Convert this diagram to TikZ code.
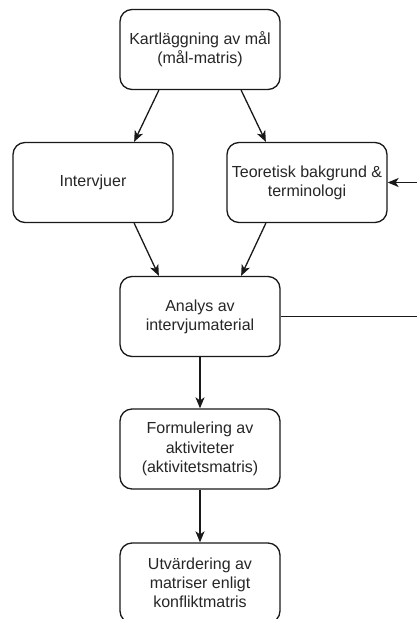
\documentclass[tikz,border=0pt]{standalone}
\usepackage{fontspec}
\setmainfont{Liberation Sans}
\usetikzlibrary{arrows.meta,calc}
\tikzset{
  box/.style={draw=black!90, line width=1.3pt, rounded corners=12pt, fill=white,
    minimum width=160pt, minimum height=80pt, inner sep=2pt, align=center,
    font=\fontsize{16}{19.2}\selectfont, text=black!85},
  conn/.style={draw=black!90, line width=1.3pt, -{Stealth[length=11pt,width=9pt,inset=3pt]}},
  plain/.style={draw=black!90, line width=1.3pt}
}
\begin{document}
\begin{tikzpicture}[x=1pt,y=-1pt]
\useasboundingbox (0,0) rectangle (417,619);
\clip (0,0) rectangle (417,619);
\node[box] (top) at (200,49.5) {Kartläggning av mål\\(mål-matris)};
\node[box] (int) at (93,182.5) {Intervjuer};
\node[box] (teo) at (307,182.5) {Teoretisk bakgrund \&\\terminologi};
\node[box] (ana) at (200,316.5) {Analys av\\intervjumaterial};
\node[box] (form) at (200,449) {Formulering av\\aktiviteter\\(aktivitetsmatris)};
\node[box] (utv) at (200,583) {Utvärdering av\\matriser enligt\\konfliktmatris};
\draw[conn] ($(top.south west)!0.245!(top.south east)$) -- ($(int.north west)!0.755!(int.north east)$);
\draw[conn] ($(top.south west)!0.755!(top.south east)$) -- ($(teo.north west)!0.245!(teo.north east)$);
\draw[conn] ($(int.south west)!0.755!(int.south east)$) -- ($(ana.north west)!0.245!(ana.north east)$);
\draw[conn] ($(teo.south west)!0.245!(teo.south east)$) -- ($(ana.north west)!0.755!(ana.north east)$);
\draw[conn] (ana) -- (form);
\draw[conn] (form) -- (utv);
\coordinate (loopr) at (440,316.5);
\draw[conn] (ana.east) -- (loopr) |- (teo.east);
\end{tikzpicture}
\end{document}
